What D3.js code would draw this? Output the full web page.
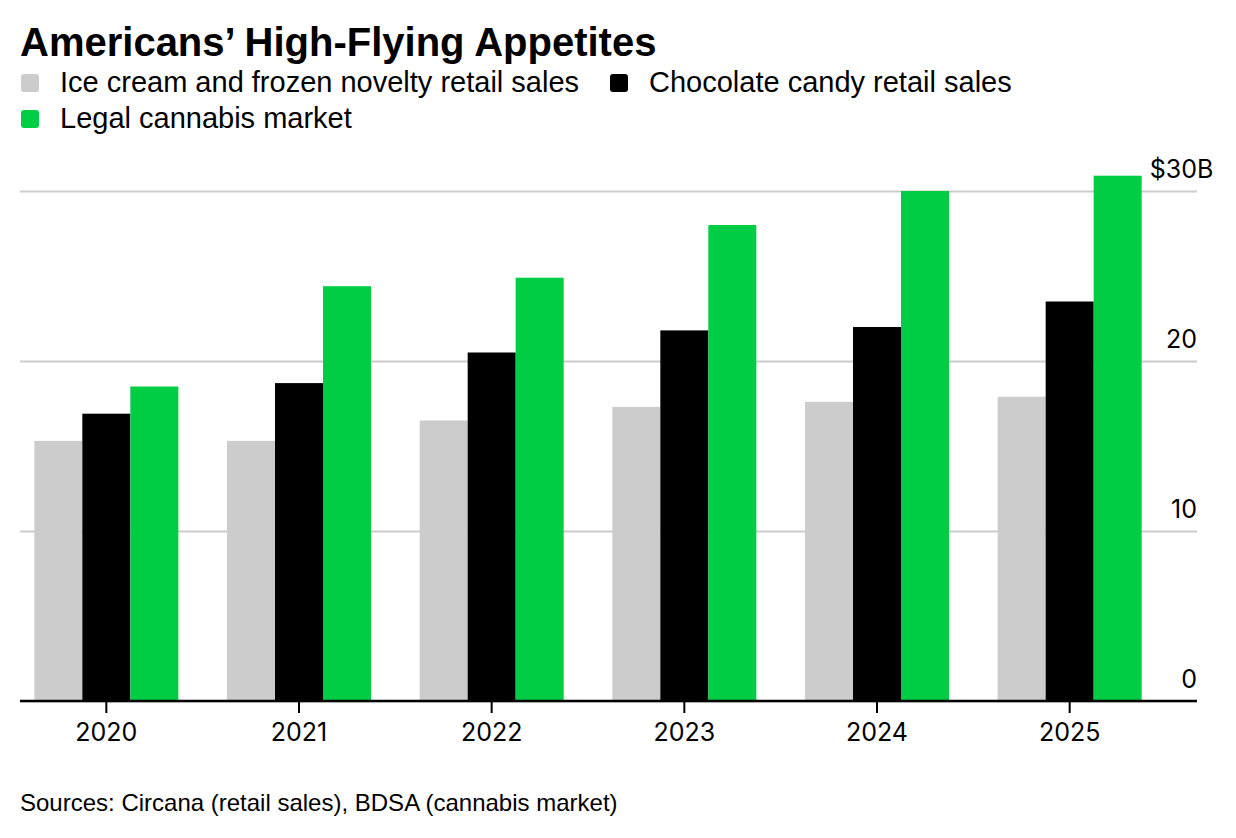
<!DOCTYPE html>
<html>
<head>
<meta charset="utf-8">
<style>
  body { margin: 0; background: #fff; }
  svg text { font-family: "Liberation Sans", Arial, sans-serif; fill: #000; }
  svg .tick text { font-family: Inter, "DejaVu Sans", sans-serif; font-size: 25px; }
</style>
</head>
<body>
<div id="chart"></div>
<script src="https://cdn.jsdelivr.net/npm/d3@7"></script>
<script>
  // data (billions of dollars)
  var years = ["2020", "2021", "2022", "2023", "2024", "2025"];
  var seriesNames = ["Ice cream and frozen novelty retail sales",
                     "Chocolate candy retail sales",
                     "Legal cannabis market"];
  var iceCream  = [15.3, 15.3, 16.5, 17.3, 17.6, 17.9];
  var chocolate = [16.9, 18.7, 20.5, 21.8, 22.0, 23.5];
  var cannabis  = [18.5, 24.4, 24.9, 28.0, 30.0, 30.9];
  var yTicks = [0, 10, 20, 30];
  var colors = ["#cccccc", "#000000", "#00cc44"];

  var W = 1236, H = 838;
  var plotLeft = 20, plotRight = 1197, plotTop = 191, plotBottom = 701;

  var svg = d3.select("#chart").append("svg")
      .attr("width", W)
      .attr("height", H);

  // title
  svg.append("text")
      .attr("x", 20)
      .attr("y", 56)
      .text("Americans\u2019 High-Flying Appetites")
      .style("font-size", "40px")
      .style("font-weight", "bold");

  // legend
  var legendPos = [{x: 21, y: 92}, {x: 610, y: 92}, {x: 21, y: 128}];
  var legend = svg.append("g").selectAll("g")
    .data(seriesNames)
    .enter().append("g")
      .attr("transform", function (d, i) {
        return "translate(" + legendPos[i].x + "," + legendPos[i].y + ")";
      });
  legend.append("rect")
      .attr("x", 0)
      .attr("y", -18)
      .attr("width", 18)
      .attr("height", 18)
      .attr("rx", 3)
      .style("fill", function (d, i) { return colors[i]; });
  legend.append("text")
      .attr("x", 39)
      .attr("y", 0)
      .text(function (d) { return d; })
      .style("font-size", "29px");

  // scales
  var yScale = d3.scaleLinear().domain([0, 30]).range([plotBottom, plotTop]);
  var x0 = d3.scaleBand().domain(years).range([10, 1166]).padding(0);
  var x1 = d3.scaleBand().domain(d3.range(3)).range([0, 144]).padding(0);
  var groupOffset = (x0.bandwidth() - 144) / 2;

  // gridlines + right y labels
  var yAxis = d3.axisRight(yScale)
      .tickValues(yTicks)
      .tickSize(0)
      .tickFormat(function (d) { return d; });
  var ya = svg.append("g")
      .attr("transform", "translate(" + plotRight + ",0)")
      .call(yAxis);
  ya.select(".domain").remove();
  ya.selectAll(".tick line")
      .attr("x1", plotLeft - plotRight)
      .attr("x2", 0)
      .style("stroke", "#cccccc")
      .style("stroke-width", "2px");
  ya.selectAll(".tick text")
      .attr("x", 0)
      .attr("dy", "-14px")
      .style("text-anchor", "end");
  // "$30B": dollar sign before, B hanging past the label edge
  ya.selectAll(".tick text")
    .filter(function (d) { return d === 30; })
      .text("$30")
    .append("tspan")
      .text("B");
  ya.selectAll(".tick text")
    .filter(function (d) { return d === 30; })
      .each(function () {
        var b = d3.select(this).select("tspan").node().getComputedTextLength();
        d3.select(this).attr("x", b);
      });

  // bars
  var seriesData = [iceCream, chocolate, cannabis];
  var groups = svg.append("g").selectAll("g")
    .data(years)
    .enter().append("g")
      .attr("transform", function (d) {
        return "translate(" + (x0(d) + groupOffset) + ",0)";
      });
  groups.selectAll("rect")
    .data(function (d, yi) {
      return seriesData.map(function (s, si) { return {s: si, v: s[yi]}; });
    })
    .enter().append("rect")
      .attr("x", function (d) { return x1(d.s); })
      .attr("y", function (d) { return yScale(d.v); })
      .attr("width", x1.bandwidth())
      .attr("height", function (d) { return plotBottom - yScale(d.v); })
      .style("fill", function (d) { return colors[d.s]; });

  // x axis
  var xAxis = d3.axisBottom(x0).tickSize(12).tickSizeOuter(0).tickPadding(10);
  var xa = svg.append("g")
      .attr("transform", "translate(0," + plotBottom + ")")
      .call(xAxis);
  xa.select(".domain").remove();
  xa.selectAll(".tick line").style("stroke", "#000").style("stroke-width", "2px");
  xa.append("line")
      .attr("x1", plotLeft)
      .attr("x2", plotRight)
      .attr("y1", 0)
      .attr("y2", 0)
      .style("stroke", "#000")
      .style("stroke-width", "2.5px");

  // source
  svg.append("text")
      .attr("x", 20)
      .attr("y", 811)
      .text("Sources: Circana (retail sales), BDSA (cannabis market)")
      .style("font-size", "24px");
</script>
</body>
</html>
